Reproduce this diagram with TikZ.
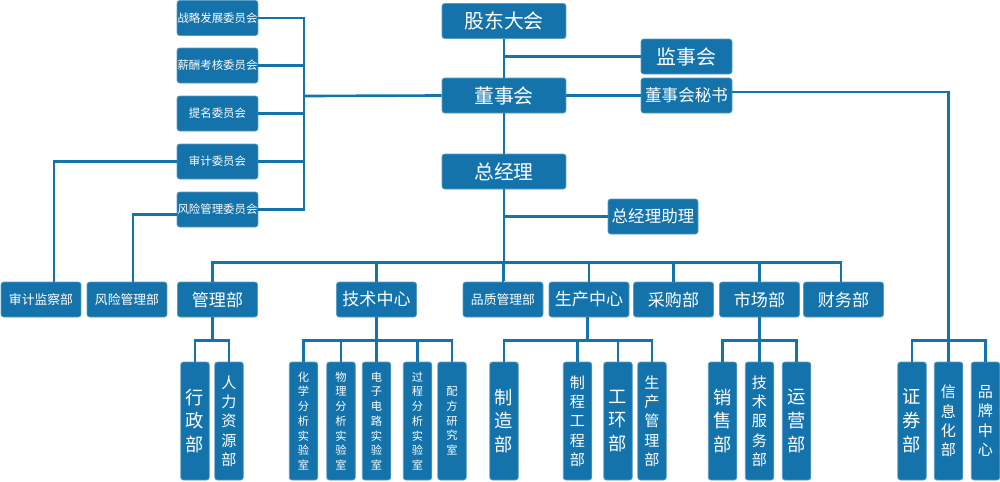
\documentclass[tikz,border=0pt]{standalone}
\usepackage{fontspec}
\newfontfamily\cjk{Noto Sans CJK SC}
\definecolor{orgblue}{HTML}{1373AA}

\begin{document}
\begin{tikzpicture}[x=0.02cm,y=-0.02cm,
  link/.style={draw=orgblue,line width=1.5pt},
  box/.style={fill=orgblue,draw=orgblue!70!white,line width=0.4pt,rounded corners=1.5pt,
    text=white,inner sep=0pt,minimum height=0.7cm},
  topbox/.style={box,minimum width=2.48cm,font=\cjk\fontsize{11.3}{13}\selectfont},
  sidebox/.style={box,minimum width=1.82cm,font=\cjk\fontsize{11.3}{13}\selectfont},
  helpbox/.style={box,minimum width=1.8cm,font=\cjk\fontsize{9.4}{11}\selectfont},
  wbox/.style={box,minimum width=1.62cm,font=\cjk\fontsize{6.5}{8}\selectfont},
  deptbox/.style={box,minimum width=1.6cm,font=\cjk\fontsize{9.7}{11}\selectfont},
  smalldept/.style={box,minimum width=1.6cm,font=\cjk\fontsize{7.3}{9}\selectfont},
  colbox/.style={box,minimum width=0.57cm,minimum height=2.36cm,align=center},
  colbig/.style={colbox,font=\cjk\fontsize{10.4}{13.6}\selectfont},
  colmid/.style={colbox,font=\cjk\fontsize{8.6}{11}\selectfont},
  collab/.style={colbox,font=\cjk\fontsize{6.4}{8.4}\selectfont}]
  \useasboundingbox (0,0) rectangle (1000,481);

  \node[topbox] (gd) at (504,21) {股东大会};
  \node[topbox] (dsh) at (504,95.5) {董事会};
  \node[topbox] (zjl) at (504,171.5) {总经理};
  \node[sidebox] (jsh) at (686.5,56.5) {监事会};
  \node[sidebox,font=\cjk\fontsize{9.4}{11}\selectfont] (ms) at (686.5,95.5) {董事会秘书};
  \node[helpbox] (zl) at (653,216.5) {总经理助理};

  \node[wbox] (zlw) at (217.5,18) {战略发展委员会};
  \node[wbox] (xcw) at (217.5,65.5) {薪酬考核委员会};
  \node[wbox] (tmw) at (217.5,113.5) {提名委员会};
  \node[wbox] (sjw) at (217.5,161.5) {审计委员会};
  \node[wbox] (fxw) at (217.5,209.5) {风险管理委员会};

  \node[smalldept] (sjjc) at (41,299.5) {审计监察部};
  \node[smalldept] (fxgl) at (127,299.5) {风险管理部};
  \node[deptbox] (glb) at (217.5,299.5) {管理部};
  \node[deptbox] (jszx) at (376.5,299.5) {技术中心};
  \node[smalldept] (pzgl) at (503,299.5) {品质管理部};
  \node[deptbox] (sczx) at (589,299.5) {生产中心};
  \node[deptbox] (cgb) at (673.5,299.5) {采购部};
  \node[deptbox] (scb) at (759.5,299.5) {市场部};
  \node[deptbox] (cwb) at (843.5,299.5) {财务部};

  \node[colbig] (xz) at (195,421) {行\\政\\部};
  \node[colmid] (rl) at (229,421) {人\\力\\资\\源\\部};
  \node[collab] (hx) at (303.5,421) {化\\学\\分\\析\\实\\验\\室};
  \node[collab] (wl) at (341,421) {物\\理\\分\\析\\实\\验\\室};
  \node[collab] (dz) at (376.5,421) {电\\子\\电\\路\\实\\验\\室};
  \node[collab] (gc) at (417.5,421) {过\\程\\分\\析\\实\\验\\室};
  \node[collab] (pf) at (452,421) {配\\方\\研\\究\\室};
  \node[colbig] (zz) at (504,421) {制\\造\\部};
  \node[colmid] (zc) at (577.5,421) {制\\程\\工\\程\\部};
  \node[colbig] (gh) at (618,421) {工\\环\\部};
  \node[colmid] (scgl) at (652,421) {生\\产\\管\\理\\部};
  \node[colbig] (xs) at (722.5,421) {销\\售\\部};
  \node[colmid] (jsfw) at (759.5,421) {技\\术\\服\\务\\部};
  \node[colbig] (yy) at (796.5,421) {运\\营\\部};
  \node[colbig] (zq) at (912,421) {证\\券\\部};
  \node[colmid] (xxh) at (948.5,421) {信\\息\\化\\部};
  \node[colmid] (pp) at (985.5,421) {品\\牌\\中\\心};

  \coordinate (cbus) at (304,96);
  \draw[link] (gd.south) -- (dsh.north);
  \draw[link] (dsh.south) -- (zjl.north);
  \draw[link] (gd.south |- jsh.west) -- (jsh.west);
  \draw[link] (dsh.east) -- (ms.west);
  \draw[link] (dsh.west) -- (cbus);
  \draw[link] (zlw.east) -| (cbus) |- (fxw.east);
  \draw[link] (xcw.east) -- (xcw.east -| cbus);
  \draw[link] (tmw.east) -- (tmw.east -| cbus);
  \draw[link] (sjw.east) -- (sjw.east -| cbus);
  \draw[link] (sjw.west) -| ([xshift=7.4pt]sjjc.north);
  \draw[link] ([yshift=-3pt]fxw.west) -| ([xshift=3.4pt]fxgl.north);
  \draw[link] ([yshift=2pt]ms.east) -| (xxh.north);

  \draw[link] (zjl.south) -- ++(0,91.5);
  \draw[link] (zjl.south |- zl.west) -- (zl.west);
  \draw[link] ([xshift=-3pt]glb.north) -- ++(0,-19) -| ([xshift=-1.4pt]cwb.north);
  \draw[link] (jszx.north) -- ++(0,-19);
  \draw[link] (pzgl.north) -- ++(0,-19);
  \draw[link] (sczx.north) -- ++(0,-19);
  \draw[link] (cgb.north) -- ++(0,-19);
  \draw[link] (scb.north) -- ++(0,-19);

  \draw[link] ([xshift=-3pt]glb.south) -- ++(0,24);
  \draw[link] (xz.north) -- ++(0,-21) -| (rl.north);
  \draw[link] (jszx.south) -- ++(0,24);
  \draw[link] (hx.north) -- ++(0,-21) -| (pf.north);
  \draw[link] (wl.north) -- ++(0,-21);
  \draw[link] (dz.north) -- ++(0,-21);
  \draw[link] (gc.north) -- ++(0,-21);
  \draw[link] ([xshift=-1pt]sczx.south) -- ++(0,24);
  \draw[link] (zz.north) -- ++(0,-21) -| (scgl.north);
  \draw[link] (zc.north) -- ++(0,-21);
  \draw[link] (gh.north) -- ++(0,-21);
  \draw[link] (scb.south) -- ++(0,24);
  \draw[link] (xs.north) -- ++(0,-21) -| (yy.north);
  \draw[link] (jsfw.north) -- ++(0,-21);
  \draw[link] (zq.north) -- ++(0,-21) -| (pp.north);
\end{tikzpicture}
\end{document}
